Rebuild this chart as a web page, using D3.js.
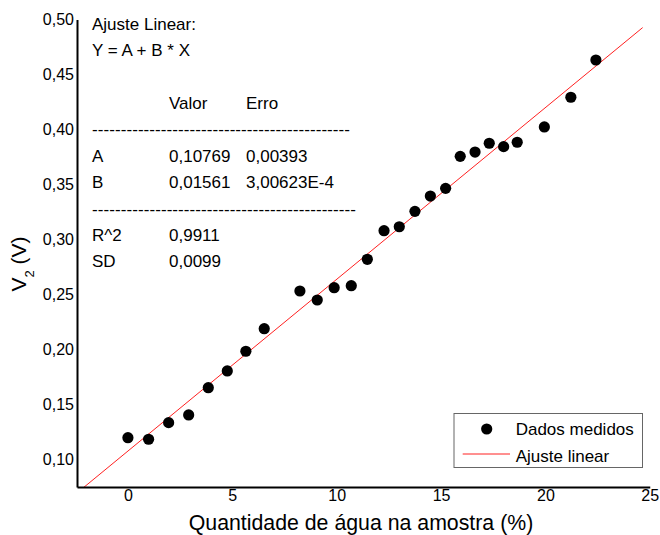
<!DOCTYPE html>
<html><head><meta charset="utf-8">
<script src="https://cdn.jsdelivr.net/npm/d3@7"></script>
<style>
html,body{margin:0;padding:0;background:#fff;}
text{font-family:"Liberation Sans",Arial,sans-serif;fill:#000;}
</style></head>
<body><svg id="c" width="660" height="535"></svg>
<script>
// Data
const waterPct = [0, 0.99, 1.95, 2.91, 3.85, 4.76, 5.65, 6.53, 8.24, 9.07, 9.88, 10.70, 11.47, 12.27, 13.0, 13.75, 14.49, 15.22, 15.92, 16.63, 17.31, 18.0, 18.65, 19.95, 21.22, 22.42];
const v2 = [0.1198, 0.1184, 0.1335, 0.1405, 0.1653, 0.1805, 0.1984, 0.2189, 0.2532, 0.2450, 0.2562, 0.2580, 0.2820, 0.3080, 0.3116, 0.3256, 0.3395, 0.3465, 0.3756, 0.3795, 0.3875, 0.3844, 0.3884, 0.4023, 0.4293, 0.4632];
const fitA = 0.10769, fitB = 0.01561;
const fitXRange = [-2.44, 24.66];
const xTicks = [0, 5, 10, 15, 20, 25];
const yTicks = [0.10, 0.15, 0.20, 0.25, 0.30, 0.35, 0.40, 0.45, 0.50];
const xDomain = [-2.44, 25];
const yDomain = [0.075, 0.50];
const annotLines = [
  ["Ajuste Linear:"],
  ["Y = A + B * X"],
  ["", "Valor", "Erro"],
  ["A", "0,10769", "0,00393"],
  ["B", "0,01561", "3,00623E-4"],
  ["R^2", "0,9911"],
  ["SD", "0,0099"]
];
const legendLabels = ["Dados medidos", "Ajuste linear"];

const svg = d3.select("#c");
const x = d3.scaleLinear().domain(xDomain).range([77, 649.75]);
const y = d3.scaleLinear().domain(yDomain).range([487, 19.5]);
const fmt = d => d3.format(".2f")(d).replace(".", ",");

svg.append("defs").append("clipPath").attr("id","clip")
  .append("rect").attr("x",x(xDomain[0])).attr("y",y(yDomain[1])-10)
  .attr("width",x(xDomain[1])-x(xDomain[0])).attr("height",y(yDomain[0])-y(yDomain[1])+10);

// fit line
svg.append("line")
  .attr("clip-path","url(#clip)")
  .attr("x1", x(fitXRange[0])).attr("y1", y(fitA + fitB*fitXRange[0]))
  .attr("x2", x(fitXRange[1])).attr("y2", y(fitA + fitB*fitXRange[1]))
  .attr("stroke","#ff2020").attr("stroke-width",1);

// points
svg.append("g").selectAll("circle").data(waterPct).join("circle")
  .attr("cx", d => x(d)).attr("cy", (d,i) => y(v2[i])).attr("r", 5.6).attr("fill","#000");

// axes
const xAxis = svg.append("g").attr("transform",`translate(0,${y(yDomain[0])})`)
  .call(d3.axisBottom(x).tickValues(xTicks).tickSize(0).tickPadding(3).tickFormat(d3.format("d")));
const yAxis = svg.append("g").attr("transform",`translate(${x(xDomain[0])},0)`)
  .call(d3.axisLeft(y).tickValues(yTicks).tickSize(0).tickPadding(3).tickFormat(fmt));
[xAxis, yAxis].forEach(g => {
  g.select(".domain").attr("stroke","#000").attr("stroke-width",2);
  g.selectAll("text").style("font-size","16px").attr("fill","#000")
   .style("font-family",'"Liberation Sans",Arial,sans-serif');
});

// axis titles
svg.append("text").attr("x",361).attr("y",530).attr("text-anchor","middle")
  .style("font-size","21.3px").text("Quantidade de água na amostra (%)");
const yt = svg.append("text").attr("transform","translate(26,264) rotate(-90)")
  .attr("text-anchor","middle").style("font-size","21px");
yt.append("tspan").text("V");
yt.append("tspan").attr("baseline-shift","sub").style("font-size","13px").text("2");
yt.append("tspan").text(" (V)");

// annotation
const ann = svg.append("g").style("font-size","17px");
const rowY = [29.5, 56, 109, 162, 187.5, 241, 267];
const colX = [92, 169, 246];
annotLines.forEach((row, r) => {
  row.forEach((t, c) => {
    if (t) ann.append("text").attr("x", colX[c]).attr("y", rowY[r]).text(t);
  });
});
ann.append("text").attr("x",92).attr("y",135).attr("textLength",258).attr("lengthAdjust","spacing")
  .text("-".repeat(45));
ann.append("text").attr("x",92).attr("y",215).attr("textLength",264).attr("lengthAdjust","spacing")
  .text("-".repeat(46));

// legend
const lg = svg.append("g");
lg.append("rect").attr("x",454).attr("y",413.5).attr("width",188.5).attr("height",54)
  .attr("fill","#fff").attr("stroke","#666").attr("stroke-width",1);
lg.append("circle").attr("cx",486.7).attr("cy",429).attr("r",5.6).attr("fill","#000");
lg.append("line").attr("x1",462.7).attr("x2",510).attr("y1",454).attr("y2",454)
  .attr("stroke","#ff2020").attr("stroke-width",1);
lg.selectAll("text.l").data(legendLabels).join("text").attr("class","l")
  .attr("x",515.7).attr("y",(d,i)=>435+i*26.5).style("font-size","17px").text(d=>d);
</script></body></html>
